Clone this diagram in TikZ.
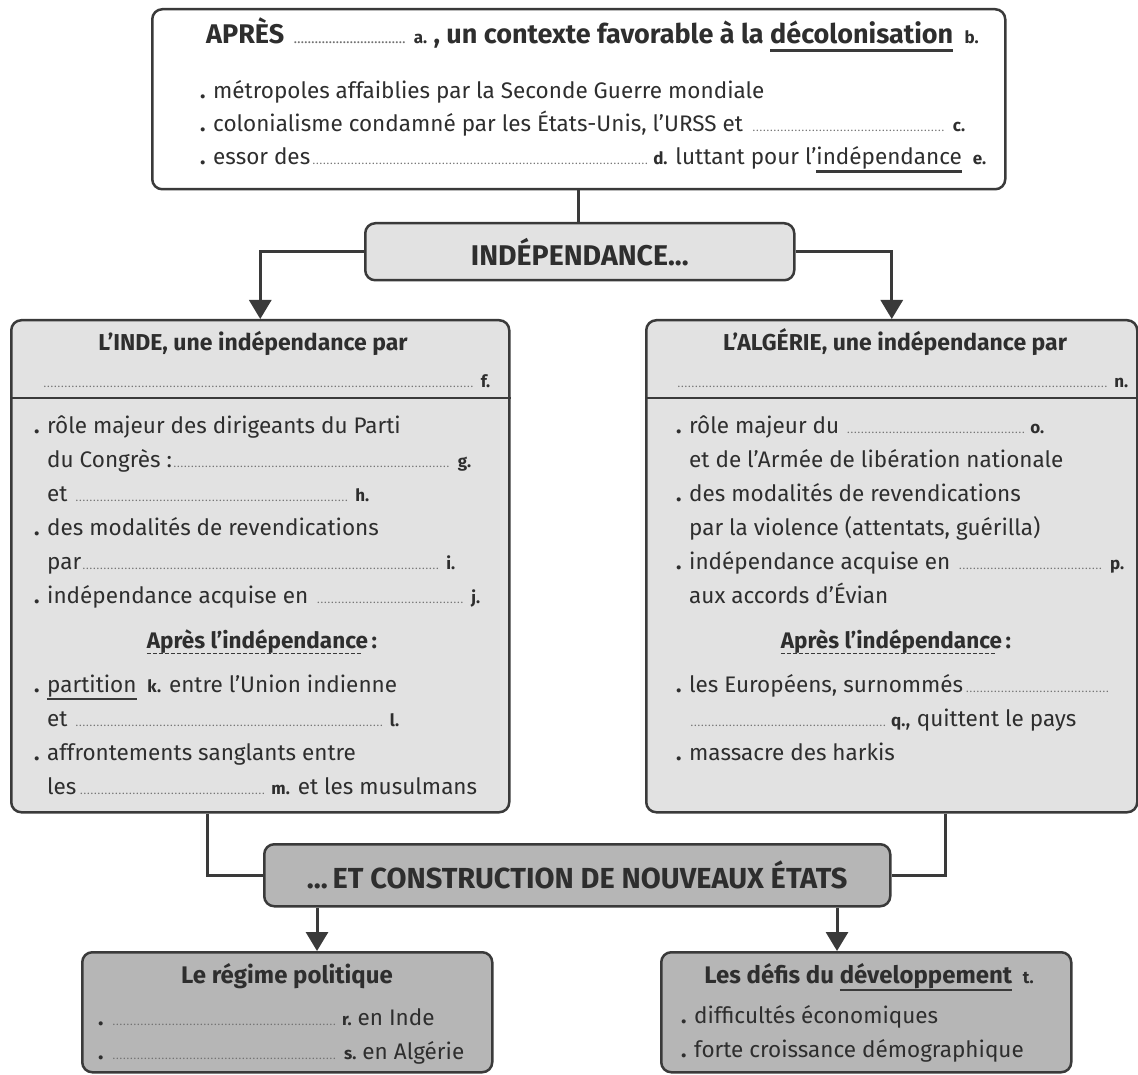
\documentclass[tikz,border=0pt]{standalone}
\usepackage{fontspec}
\setmainfont{Fira Sans}
\usetikzlibrary{arrows.meta,positioning}

\definecolor{trait}{HTML}{3A3A3A}
\definecolor{encre}{HTML}{2E2E2E}
\definecolor{grisclair}{HTML}{E2E2E2}
\definecolor{grisfonce}{HTML}{B6B6B6}
\definecolor{pointille}{HTML}{707070}

\newsavebox\motbox
\newcommand\pointilles[1][0pt plus 1fill]{\leaders\hbox to 3.5pt{\hss{\color{pointille}\fontsize{11}{11}\selectfont.}\hss}\hskip #1\relax}
\newcommand\lettre[1]{\hspace{5pt}{\fontsize{17}{17}\selectfont\bfseries #1.}}
\newcommand\puce{\makebox[13pt][l]{\bfseries .}}
\newcommand\suite{\hspace*{13pt}}
\newcommand\souligne[1]{\sbox\motbox{#1}\rlap{\raisebox{-8pt}{\color{trait}\rule{\wd\motbox}{2.5pt}}}\usebox\motbox}
\newcommand\tirets[1]{\sbox\motbox{#1}\rlap{\raisebox{-6pt}{{\color{trait}\leaders\hbox to 6pt{\rule{4pt}{1.3pt}\hss}\hskip\wd\motbox}}}\usebox\motbox}
\newcommand\apresind{\tirets{Après l’indépendance}\,:}

\gdef\hautfill{white}
\gdef\milieufill{grisclair}
\gdef\basfill{grisfonce}

\begin{document}
\begin{tikzpicture}[x=1pt, y=-1pt, color=encre,
  boite/.style={draw=trait, line width=2.5pt, rounded corners=10pt, inner sep=0pt, anchor=north west},
  texte/.style={font=\fontsize{22.5}{34}\selectfont, align=left, inner sep=0pt, anchor=base west},
  titre/.style={font=\fontsize{28.5}{32}\selectfont\bfseries, inner sep=0pt},
  soustitre/.style={font=\fontsize{23}{28}\selectfont\bfseries, inner sep=0pt, anchor=base},
  lien/.style={draw=trait, line width=3pt},
  fleche/.style={lien, -{Triangle[width=22pt,length=19pt]}}]

\useasboundingbox (0,0) rectangle (1138,1075);

% les boites
\node[boite, fill=\hautfill, minimum width=853pt, minimum height=180pt] (apres) at (151,8) {};
\node[boite, fill=\milieufill, minimum width=429pt, minimum height=57pt, titre] (ind) at (364,222) {INDÉPENDANCE...};
\node[boite, fill=\milieufill, minimum width=498pt, minimum height=492pt] (inde) at (10,319) {};
\node[boite, fill=\milieufill, minimum width=491pt, minimum height=492pt] (algerie) at (645,319) {};
\node[boite, fill=\basfill, minimum width=626pt, minimum height=62pt, titre, font=\fontsize{29}{32}\selectfont\bfseries] (etats) at (263,843) {...\,ET CONSTRUCTION DE NOUVEAUX ÉTATS};
\node[boite, fill=\basfill, minimum width=410pt, minimum height=120pt] (regime) at (81,951) {};
\node[boite, fill=\basfill, minimum width=410pt, minimum height=120pt] (defis) at (660,951) {};

\draw[trait, line width=2.5pt] (inde.west |- 0,398) -- (inde.east |- 0,398);
\draw[trait, line width=2.5pt] (algerie.west |- 0,398) -- (algerie.east |- 0,398);

% boite du haut
\node[titre, anchor=base west, font=\fontsize{27}{32}\selectfont\bfseries] (apresT) at (206,44) {APRÈS~\pointilles[118pt]\lettre{a}~, un contexte favorable à la \souligne{décolonisation}~\lettre{b}};
\node[texte, font=\fontsize{22.5}{33}\selectfont] (apresL) at (200,165) {%
  \puce métropoles affaiblies par la Seconde Guerre mondiale\\
  \puce\makebox[752pt][s]{colonialisme condamné par les États-Unis, l’URSS et \pointilles\lettre{c}}\\
  \puce essor des\pointilles[338pt]\lettre{d} luttant pour l’\souligne{indépendance}~\lettre{e}};

% l'Inde
\node[soustitre] (indeT) at (253,351) {L’INDE, une indépendance par};
\node[anchor=base west, inner sep=0pt] (indeF) at (43,387) {\makebox[447pt][s]{\pointilles\lettre{f}}};
\node[texte] (indeL) at (34,603) {%
  \puce rôle majeur des dirigeants du Parti\\
  \suite\makebox[424pt][s]{du Congrès :\pointilles\lettre{g}}\\
  \suite\makebox[322pt][s]{et \pointilles\lettre{h}}\\
  \puce des modalités de revendications\\
  \suite\makebox[408pt][s]{par\pointilles\lettre{i}}\\
  \puce\makebox[433pt][s]{indépendance acquise en \pointilles\lettre{j}}};
\node[texte, anchor=base, font=\fontsize{22.5}{34}\selectfont\bfseries] (indeA) at (262,648) {\apresind};
\node[texte] (indeM) at (34,794) {%
  \puce\souligne{partition}~\lettre{k} entre l’Union indienne\\
  \suite\makebox[352pt][s]{et \pointilles\lettre{l}}\\
  \puce affrontements sanglants entre\\
  \suite les\pointilles[190pt]\lettre{m} et les musulmans};

% l'Algerie
\node[soustitre] (algerieT) at (895,351) {L’ALGÉRIE, une indépendance par};
\node[anchor=base west, inner sep=0pt] (algerieF) at (677,387) {\makebox[451pt][s]{\pointilles\lettre{n}}};
\node[texte] (algerieL) at (676,603) {%
  \puce\makebox[355pt][s]{rôle majeur du \pointilles\lettre{o}}\\
  \suite et de l’Armée de libération nationale\\
  \puce des modalités de revendications\\
  \suite par la violence (attentats, guérilla)\\
  \puce\makebox[435pt][s]{indépendance acquise en \pointilles\lettre{p}}\\
  \suite aux accords d’Évian};
\node[texte, anchor=base, font=\fontsize{22.5}{34}\selectfont\bfseries] (algerieA) at (896,648) {\apresind};
\node[texte] (algerieM) at (676,760) {%
  \puce\makebox[423pt][s]{les Européens, surnommés\pointilles}\\
  \suite\pointilles[197pt]\lettre{q}, quittent le pays\\
  \puce massacre des harkis};

% en bas
\node[soustitre, font=\fontsize{24}{28}\selectfont\bfseries] (regimeT) at (287,983) {Le régime politique};
\node[texte] (regimeL) at (98,1059) {%
  \puce\pointilles[226pt]\lettre{r}~en Inde\\
  \puce\pointilles[228pt]\lettre{s}~en Algérie};
\node[soustitre, font=\fontsize{24}{28}\selectfont\bfseries] (defisT) at (869,983) {Les défis du \souligne{développement}~\lettre{t}};
\node[texte] (defisL) at (681,1057) {%
  \puce difficultés économiques\\
  \puce forte croissance démographique};

% les liens
\draw[lien] (apres.south) -- (apres.south |- ind.north);
\draw[fleche] (ind.west) -| (inde.north);
\draw[fleche] (ind.east) -| (algerie.north);
\draw[lien] (207,0 |- inde.south) |- (etats.west);
\draw[lien] (945,0 |- algerie.south) |- (etats.east);
\draw[fleche] (317,0 |- etats.south) -- (317,0 |- regime.north);
\draw[fleche] (837,0 |- etats.south) -- (837,0 |- defis.north);

\end{tikzpicture}
\end{document}
